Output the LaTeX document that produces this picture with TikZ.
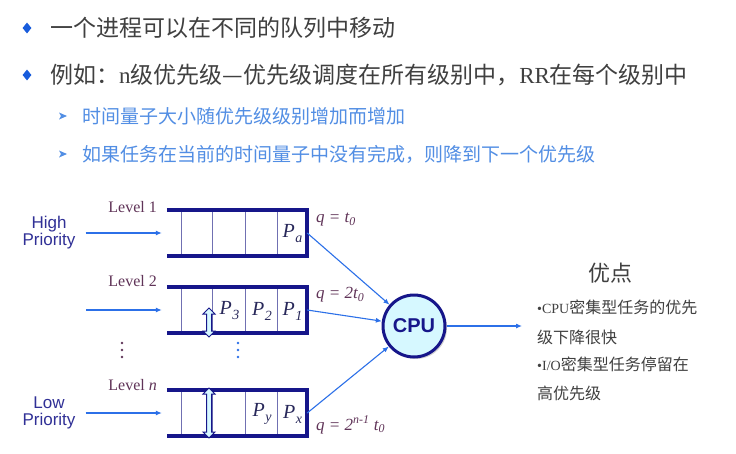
\documentclass[tikz,border=0pt]{standalone}
\usepackage{fontspec}
\setmainfont{Liberation Serif}
\setsansfont{Liberation Sans}
\newfontfamily\cjk{Noto Sans CJK SC}
\usetikzlibrary{arrows.meta,positioning,shapes.geometric,shadows}
\definecolor{slategray}{RGB}{64,64,64}
\definecolor{bulletblue}{RGB}{24,92,220}
\definecolor{subblue}{RGB}{82,142,228}
\definecolor{queuenavy}{RGB}{22,22,138}
\definecolor{celllilac}{RGB}{112,112,178}
\definecolor{plum}{RGB}{96,52,88}
\definecolor{prionavy}{RGB}{48,48,150}
\definecolor{flowblue}{RGB}{44,112,232}
\definecolor{cpucyan}{RGB}{214,248,255}
\definecolor{cellink}{RGB}{40,40,90}
\newcommand{\proc}[1]{P\kern0.5pt\raisebox{-5pt}{\fontsize{14}{15}\selectfont#1}}
\newcommand{\swapmark}[3]{%
  \draw[swaparrow] (#1,#2) -- ++(6,6) -- ++(-3.5,0) -- ({#1+2.5},{#3-6}) -- ++(3.5,0)
    -- (#1,#3) -- ++(-6,-6) -- ++(3.5,0) -- ({#1-2.5},{#2+6}) -- ++(-3.5,0) -- cycle;}
\tikzset{
  mainline/.style={anchor=west, inner sep=0pt, text=slategray, font=\cjk\fontsize{23}{28}\selectfont},
  subline/.style={anchor=west, inner sep=0pt, text=subblue, font=\cjk\fontsize{19}{23}\selectfont},
  queue/.style={minimum width=140pt, minimum height=46pt, inner sep=0pt},
  queueline/.style={draw=queuenavy, line width=4pt},
  cellline/.style={draw=celllilac, line width=0.8pt},
  cell/.style={text=cellink, font=\fontsize{20}{24}\selectfont\itshape, inner sep=0pt},
  levellabel/.style={anchor=east, text=plum, font=\fontsize{16}{19}\selectfont, inner sep=0pt},
  quantum/.style={anchor=west, text=plum, font=\fontsize{17}{20}\selectfont\itshape, inner sep=0pt},
  priority/.style={align=center, text=prionavy, font=\sffamily\fontsize{17}{17}\selectfont, inner sep=0pt},
  cpu/.style={circle, draw=queuenavy, line width=3pt, fill=cpucyan, minimum size=62pt,
    text=queuenavy, font=\sffamily\bfseries\fontsize{20}{24}\selectfont,
    drop shadow={shadow xshift=2pt, shadow yshift=-2pt, opacity=0.35}},
  flow/.style={-{Latex[length=6pt,width=5pt]}, line width=1.1pt, draw=flowblue},
  swaparrow/.style={draw=queuenavy, line width=1pt, fill=cpucyan},
  merit/.style={anchor=west, inner sep=0pt, text=slategray, font=\cjk\fontsize{16}{20}\selectfont}
}
\begin{document}
\begin{tikzpicture}[x=1pt, y=-1pt]
    \fill[white] (0,0) rectangle (736,453);
    \useasboundingbox (0,0) rectangle (736,453);

    \node[diamond, fill=bulletblue, minimum width=9pt, minimum height=11pt, inner sep=0pt] (dia1) at (27,28) {};
    \node[diamond, fill=bulletblue, minimum width=9pt, minimum height=11pt, inner sep=0pt] (dia2) at (27,75) {};
    \foreach \y in {116,154}
      \fill[subblue] (59,\y-3.5) -- (67,\y) -- (59,\y+3.5) -- (61,\y) -- cycle;
    \node[mainline] (move) at (50,28) {一个进程可以在不同的队列中移动};
    \node[mainline] (example) at (50,75) {例如：{\rmfamily n}级优先级—优先级调度在所有级别中，{\rmfamily RR}在每个级别中};
    \node[subline] (grow) at (82,116) {时间量子大小随优先级级别增加而增加};
    \node[subline] (drop) at (82,154) {如果任务在当前的时间量子中没有完成，则降到下一个优先级};

    \node[queue] (q1) at (237,233) {};
    \node[queue] (q2) at (237,310) {};
    \node[queue] (qn) at (237,413) {};
    \foreach \q in {q1,q2,qn}{
      \foreach \dx in {15,46,79,111}
        \draw[cellline] ([xshift=\dx pt]\q.north west) -- ([xshift=\dx pt]\q.south west);
      \draw[queueline] (\q.north west) -- (\q.north east) -- (\q.south east) -- (\q.south west);
    }
    \node[levellabel] (lv1) at (157,207) {Level 1};
    \node[levellabel] (lv2) at (157,281) {Level 2};
    \node[levellabel] (lvn) at (157,385) {Level \textit{n}};

    \node[cell] (pa) at (292.5,234) {\proc{a}};
    \node[cell] (p3) at (229.5,311) {\proc{3}};
    \node[cell] (p2) at (262,311) {\proc{2}};
    \node[cell] (p1) at (292.5,311) {\proc{1}};
    \node[cell] (py) at (262,414) {\proc{y}};
    \node[cell] (px) at (292.5,414) {\proc{x}};
    \swapmark{209}{308}{337}
    \swapmark{209}{388}{438}

    \node[priority] (hi) at (49,233) {High\\Priority};
    \node[priority] (lo) at (49,413) {Low\\Priority};
    \coordinate (in2) at (86,310);
    \foreach \y in {343,350,357}{
      \fill[plum] (122,\y) circle (1.3pt);
      \fill[flowblue] (238,\y) circle (1.3pt);
    }

    \node[cpu] (cpu) at (414,326) {CPU};
    \node[quantum] (t1) at (316,220) {q = t\textsubscript{0}};
    \node[quantum] (t2) at (316,295) {q = 2t\textsubscript{0}};
    \node[quantum] (tn) at (316,425) {q = 2\textsuperscript{n-1} t\textsubscript{0}};

    \draw[flow, shorten <=10pt, shorten >=5pt] (hi) -- (q1);
    \draw[flow, shorten >=5pt] (in2) -- (q2);
    \draw[flow, shorten <=10pt, shorten >=5pt] (lo) -- (qn);
    \draw[flow] (q1.east) -- (cpu);
    \draw[flow] (q2.east) -- (cpu);
    \draw[flow] (qn.east) -- (cpu);
    \coordinate (outend) at (522,326);
    \draw[flow] (cpu) -- (outend);

    \node[text=slategray, font=\cjk\fontsize{22}{26}\selectfont, inner sep=0pt] (pros) at (610,273) {优点};
    \node[merit] (m1) at (537,307) {{\rmfamily\fontsize{14}{16}\selectfont •CPU}密集型任务的优先};
    \node[merit] (m2) at (537,337) {级下降很快};
    \node[merit] (m3) at (537,364) {{\rmfamily\fontsize{14}{16}\selectfont •I/O}密集型任务停留在};
    \node[merit] (m4) at (537,393) {高优先级};
  \end{tikzpicture}
\end{document}
